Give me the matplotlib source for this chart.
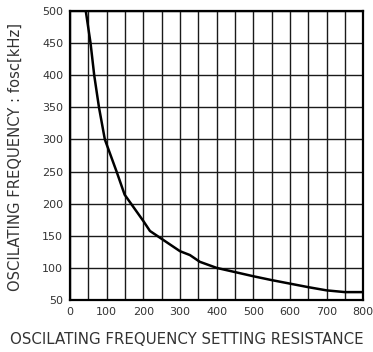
import matplotlib
matplotlib.use("Agg")
import matplotlib.pyplot as plt
import numpy as np

plt.rcParams['font.family'] = ['DejaVu Sans']

# resistance [kOhm] vs oscillating frequency [kHz]
resistance = [43, 56, 66, 79, 95, 127, 149, 200, 218, 300, 327, 354,
              400, 450, 500, 550, 600, 650, 700, 750, 800]
fosc = [500, 450, 400, 350, 300, 250, 214, 173, 157.5, 126, 120, 109.5,
        100, 93.5, 87, 81, 75.5, 70, 65, 62.3, 62.3]

x_ticks = [0, 100, 200, 300, 400, 500, 600, 700, 800]
y_ticks = [50, 100, 150, 200, 250, 300, 350, 400, 450, 500]

fig = plt.figure(figsize=(3.73, 3.52), dpi=100)
ax = fig.add_axes([0.1877, 0.1477, 0.9740 - 0.1877, 0.9688 - 0.1477])

ax.set_xlim(0, 800)
ax.set_ylim(50, 500)
ax.set_xticks(np.arange(0, 801, 50))
ax.set_xticklabels([str(v) if v in x_ticks else '' for v in range(0, 801, 50)])
ax.set_yticks(y_ticks)
ax.grid(True, color='#1a1a1a', linewidth=1.0)
ax.set_axisbelow(True)

ax.plot(resistance, fosc, color='black', linewidth=1.8, solid_joinstyle='round', zorder=3)

ax.tick_params(length=0, labelsize=8, colors='#333333')
ax.tick_params(axis='x', pad=5)
ax.tick_params(axis='y', pad=5)
for s in ax.spines.values():
    s.set_color('black')
    s.set_linewidth(1.6)

fig.text(0.042, 0.553, 'OSCILATING FREQUENCY : fosc[kHz]', fontsize=10.6, color='#333333',
         rotation=90, ha='center', va='center')
fig.text(0.5, 0.035, 'OSCILATING FREQUENCY SETTING RESISTANCE', fontsize=10.8,
         color='#333333', ha='center', va='center')

fig.savefig('out.png', dpi=100)
